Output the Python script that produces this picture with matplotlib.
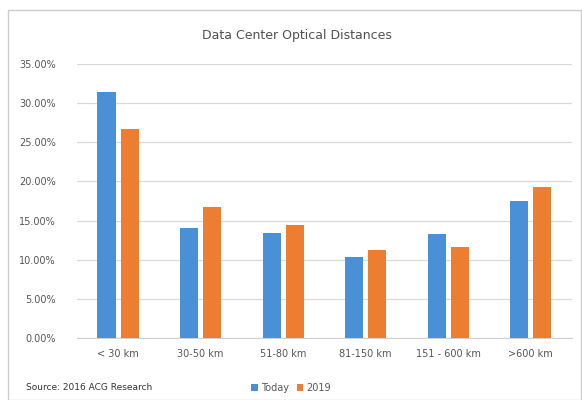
import numpy as np
import matplotlib.pyplot as plt
from matplotlib.patches import Rectangle

categories = ['< 30 km', '30-50 km', '51-80 km', '81-150 km', '151 - 600 km', '>600 km']
today = [31.4, 14.0, 13.4, 10.3, 13.3, 17.5]
y2019 = [26.7, 16.7, 14.4, 11.2, 11.6, 19.3]
ticks = [0, 5, 10, 15, 20, 25, 30, 35]

blue = '#4A90D6'
orange = '#ED7D31'

fig = plt.figure(figsize=(5.82, 4.0), dpi=100)
ax = fig.add_axes([0.132, 0.155, 0.851, 0.685])

x = np.arange(len(categories))
w = 0.22
ax.bar(x - 0.14, today, w, color=blue, label='Today', zorder=3)
ax.bar(x + 0.14, y2019, w, color=orange, label='2019', zorder=3)

ax.set_ylim(0, 35)
ax.set_xlim(-0.5, len(categories) - 0.5)
ax.set_yticks(ticks)
ax.set_yticklabels([f'{t:.2f}%' for t in ticks], fontsize=7, color='#555555')
ax.set_xticks(x)
ax.set_xticklabels(categories, fontsize=7, color='#555555')
ax.tick_params(axis='x', length=0, pad=8)
ax.tick_params(axis='y', length=0, pad=15)
ax.yaxis.grid(True, color='#d9d9d9', linewidth=0.9, zorder=0)
for s in ['top', 'right', 'left']:
    ax.spines[s].set_visible(False)
ax.spines['bottom'].set_color('#d0d0d0')

fig.text(0.51, 0.912, 'Data Center Optical Distances', ha='center', va='center',
         fontsize=9, color='#505050')
fig.text(0.045, 0.03, 'Source: 2016 ACG Research', fontsize=6.5, color='#333333',
         va='center')
ax.legend(loc='center', bbox_to_anchor=(0.5, 0.03), bbox_transform=fig.transFigure,
          ncol=2, frameon=False, fontsize=7, handlelength=0.7, handleheight=0.7,
          columnspacing=0.8, handletextpad=0.3, labelcolor='#555555')

fig.patches.append(Rectangle((0.014, 0.0), 0.985, 0.975, transform=fig.transFigure,
                             fill=False, edgecolor='#cccccc', linewidth=1))

fig.savefig('out.png', dpi=100)
